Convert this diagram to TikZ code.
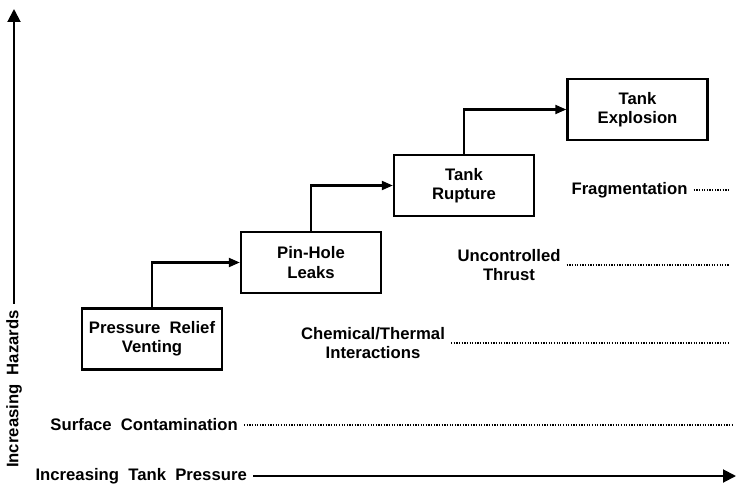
\documentclass[tikz,border=0pt]{standalone}
\usepackage{fontspec}
\setmainfont{Liberation Sans}
\usetikzlibrary{positioning, arrows.meta}

\begin{document}
\begin{tikzpicture}[x=0.02cm, y=-0.02cm, font=\bfseries\fontsize{9.5}{11}\selectfont,
    stage/.style={rectangle, draw, line width=1.4pt, minimum width=2.8cm,
                  minimum height=1.22cm, align=center},
    flow/.style={-{Triangle[length=2.2mm, width=1.8mm]}, line width=1.2pt},
    axis/.style={-{Triangle[length=2.6mm, width=2.6mm]}, line width=1.1pt},
    effect/.style={dash pattern=on 0.7pt off 0.8pt, line width=0.7pt}]
  \useasboundingbox (0,0) rectangle (736,486);

  % escalation stages
  \node[stage] (prv)  at (152,339)   {Pressure\ \ Relief\\Venting};
  \node[stage] (leak) at (311,262.5) {Pin-Hole\\Leaks};
  \node[stage] (rupt) at (464,185.5) {Tank\\Rupture};
  \node[stage] (expl) at (637.5,109.5) {Tank\\Explosion};

  \draw[flow] (prv.north) |- (leak.west);
  \draw[flow] (leak.north) |- (rupt.west);
  \draw[flow] (rupt.north) |- (expl.west);

  % hazard levels
  \node[anchor=east] (surf) at (244,425) {Surface\ \ Contamination};
  \node[align=center] (chem) at (373,343) {Chemical/Thermal\\Interactions};
  \node[align=center] (thr)  at (509,265) {Uncontrolled\\Thrust};
  \node (frag) at (629.5,190) {Fragmentation};
  \coordinate (surfend) at (732,425);
  \coordinate (chemend) at (728,343);
  \coordinate (thrend)  at (730,265);
  \coordinate (fragend) at (730,190);
  \draw[effect] (surf) -- (surfend);
  \draw[effect] (chem) -- (chemend);
  \draw[effect] (thr) -- (thrend);
  \draw[effect] (frag) -- (fragend);

  % axes
  \node[rotate=90] (haz) at (14,389) {Increasing\ \ Hazards};
  \node[anchor=east] (tp) at (253,476) {Increasing\ \ Tank\ \ Pressure};
  \coordinate (ytip) at (14,9);
  \coordinate (xtip) at (736,476);
  \draw[axis] (haz.east) -- (ytip);
  \draw[axis] (tp.east) -- (xtip);
\end{tikzpicture}
\end{document}
